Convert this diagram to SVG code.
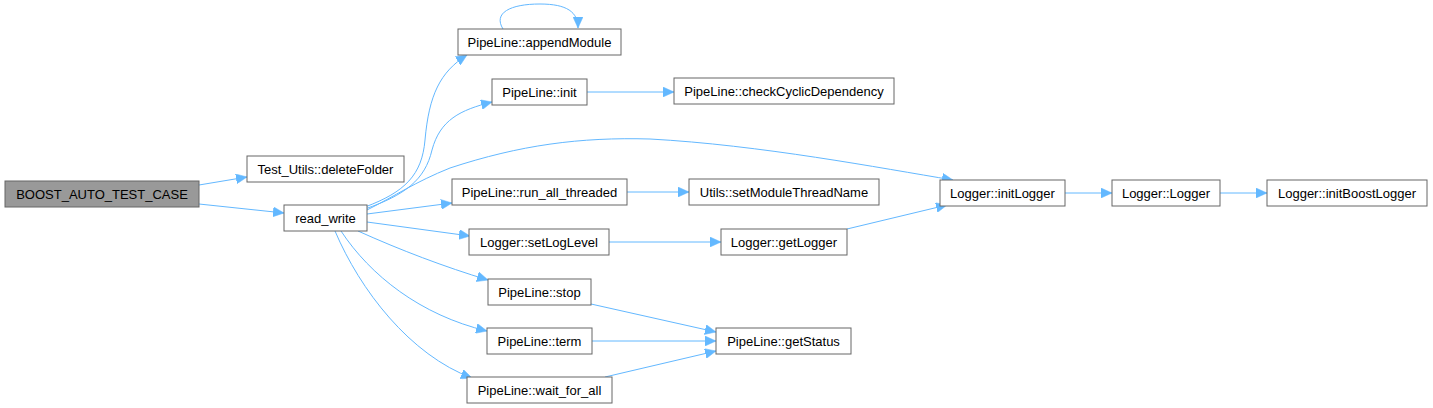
<svg xmlns="http://www.w3.org/2000/svg" width="1433" height="408" viewBox="0 0 1433 408">
<style>
.n rect{fill:#ffffff;stroke:#666666;stroke-width:1}
.n.hl rect{fill:#999999}
.n text{font-family:"Liberation Sans",Arial,Helvetica,sans-serif;font-size:13px;fill:#000000;text-anchor:middle}
.e path{fill:none;stroke:#63b8ff;stroke-width:1;marker-end:url(#ah)}
</style>
<defs>
<marker id="ah" markerUnits="userSpaceOnUse" markerWidth="12" markerHeight="10" refX="11" refY="5" orient="auto">
<path d="M0,0 L11,5 L0,10 Z" fill="#63b8ff" stroke="#63b8ff" stroke-width="0.5"/>
</marker>
</defs>
<rect width="1433" height="408" fill="#ffffff"/>
<g id="edges" class="e">
<path d="M199,185 L247,177"/>
<path d="M199,204 L284,213"/>
<path d="M365,207 C405,192 422,175 425,140 C429,95 440,72 467,55"/>
<path d="M365,209 C405,195 425,180 432,150 C440,120 460,110 492,102"/>
<path d="M367,210 C395,196 415,182 450,168 C520,145 580,137 650,139 C760,145 880,168 953,180"/>
<path d="M367,214 L452,203"/>
<path d="M367,222 L470,236"/>
<path d="M358,231 C400,250 445,267 488,280"/>
<path d="M341,231 C370,275 420,315 487,331"/>
<path d="M335,231 C360,290 410,355 472,378"/>
<path d="M503,29 C493,13 510,4 540,4 C567,4 578,12 578,28"/>
<path d="M587,92 L674,92"/>
<path d="M627,192 L689,192"/>
<path d="M609,242 L721,242"/>
<path d="M847,229 L947,205"/>
<path d="M1065,193 L1112,193"/>
<path d="M1220,193 L1267,193"/>
<path d="M591,304 L716,332"/>
<path d="M592,341 L716,341"/>
<path d="M605,377 L716,351"/>
</g>
<g id="n_boost" class="n hl"><rect x="5" y="181" width="194" height="26"/><text x="102" y="198.5">BOOST_AUTO_TEST_CASE</text></g>
<g id="n_deleteFolder" class="n"><rect x="247" y="156" width="157" height="26"/><text x="325.5" y="173.5">Test_Utils::deleteFolder</text></g>
<g id="n_read_write" class="n"><rect x="284" y="205" width="83" height="26"/><text x="325.5" y="222.5">read_write</text></g>
<g id="n_appendModule" class="n"><rect x="458" y="29" width="163" height="26"/><text x="539.5" y="46.5">PipeLine::appendModule</text></g>
<g id="n_init" class="n"><rect x="492" y="79" width="95" height="26"/><text x="539.5" y="96.5">PipeLine::init</text></g>
<g id="n_checkCyclic" class="n"><rect x="674" y="78" width="220" height="26"/><text x="784" y="95.5">PipeLine::checkCyclicDependency</text></g>
<g id="n_run_all" class="n"><rect x="452" y="179" width="175" height="26"/><text x="539.5" y="196.5">PipeLine::run_all_threaded</text></g>
<g id="n_setModuleThreadName" class="n"><rect x="689" y="179" width="190" height="26"/><text x="784" y="196.5">Utils::setModuleThreadName</text></g>
<g id="n_setLogLevel" class="n"><rect x="469" y="229" width="140" height="26"/><text x="539" y="246.5">Logger::setLogLevel</text></g>
<g id="n_getLogger" class="n"><rect x="721" y="229" width="126" height="26"/><text x="784" y="246.5">Logger::getLogger</text></g>
<g id="n_stop" class="n"><rect x="488" y="279" width="103" height="26"/><text x="539.5" y="296.5">PipeLine::stop</text></g>
<g id="n_term" class="n"><rect x="487" y="328" width="105" height="26"/><text x="539.5" y="345.5">PipeLine::term</text></g>
<g id="n_wait_for_all" class="n"><rect x="467" y="377" width="145" height="26"/><text x="539.5" y="394.5">PipeLine::wait_for_all</text></g>
<g id="n_getStatus" class="n"><rect x="716" y="328" width="135" height="26"/><text x="783.5" y="345.5">PipeLine::getStatus</text></g>
<g id="n_initLogger" class="n"><rect x="940" y="180" width="125" height="26"/><text x="1002.5" y="197.5">Logger::initLogger</text></g>
<g id="n_Logger" class="n"><rect x="1112" y="180" width="108" height="26"/><text x="1166" y="197.5">Logger::Logger</text></g>
<g id="n_initBoostLogger" class="n"><rect x="1267" y="180" width="160" height="26"/><text x="1347" y="197.5">Logger::initBoostLogger</text></g>
</svg>
